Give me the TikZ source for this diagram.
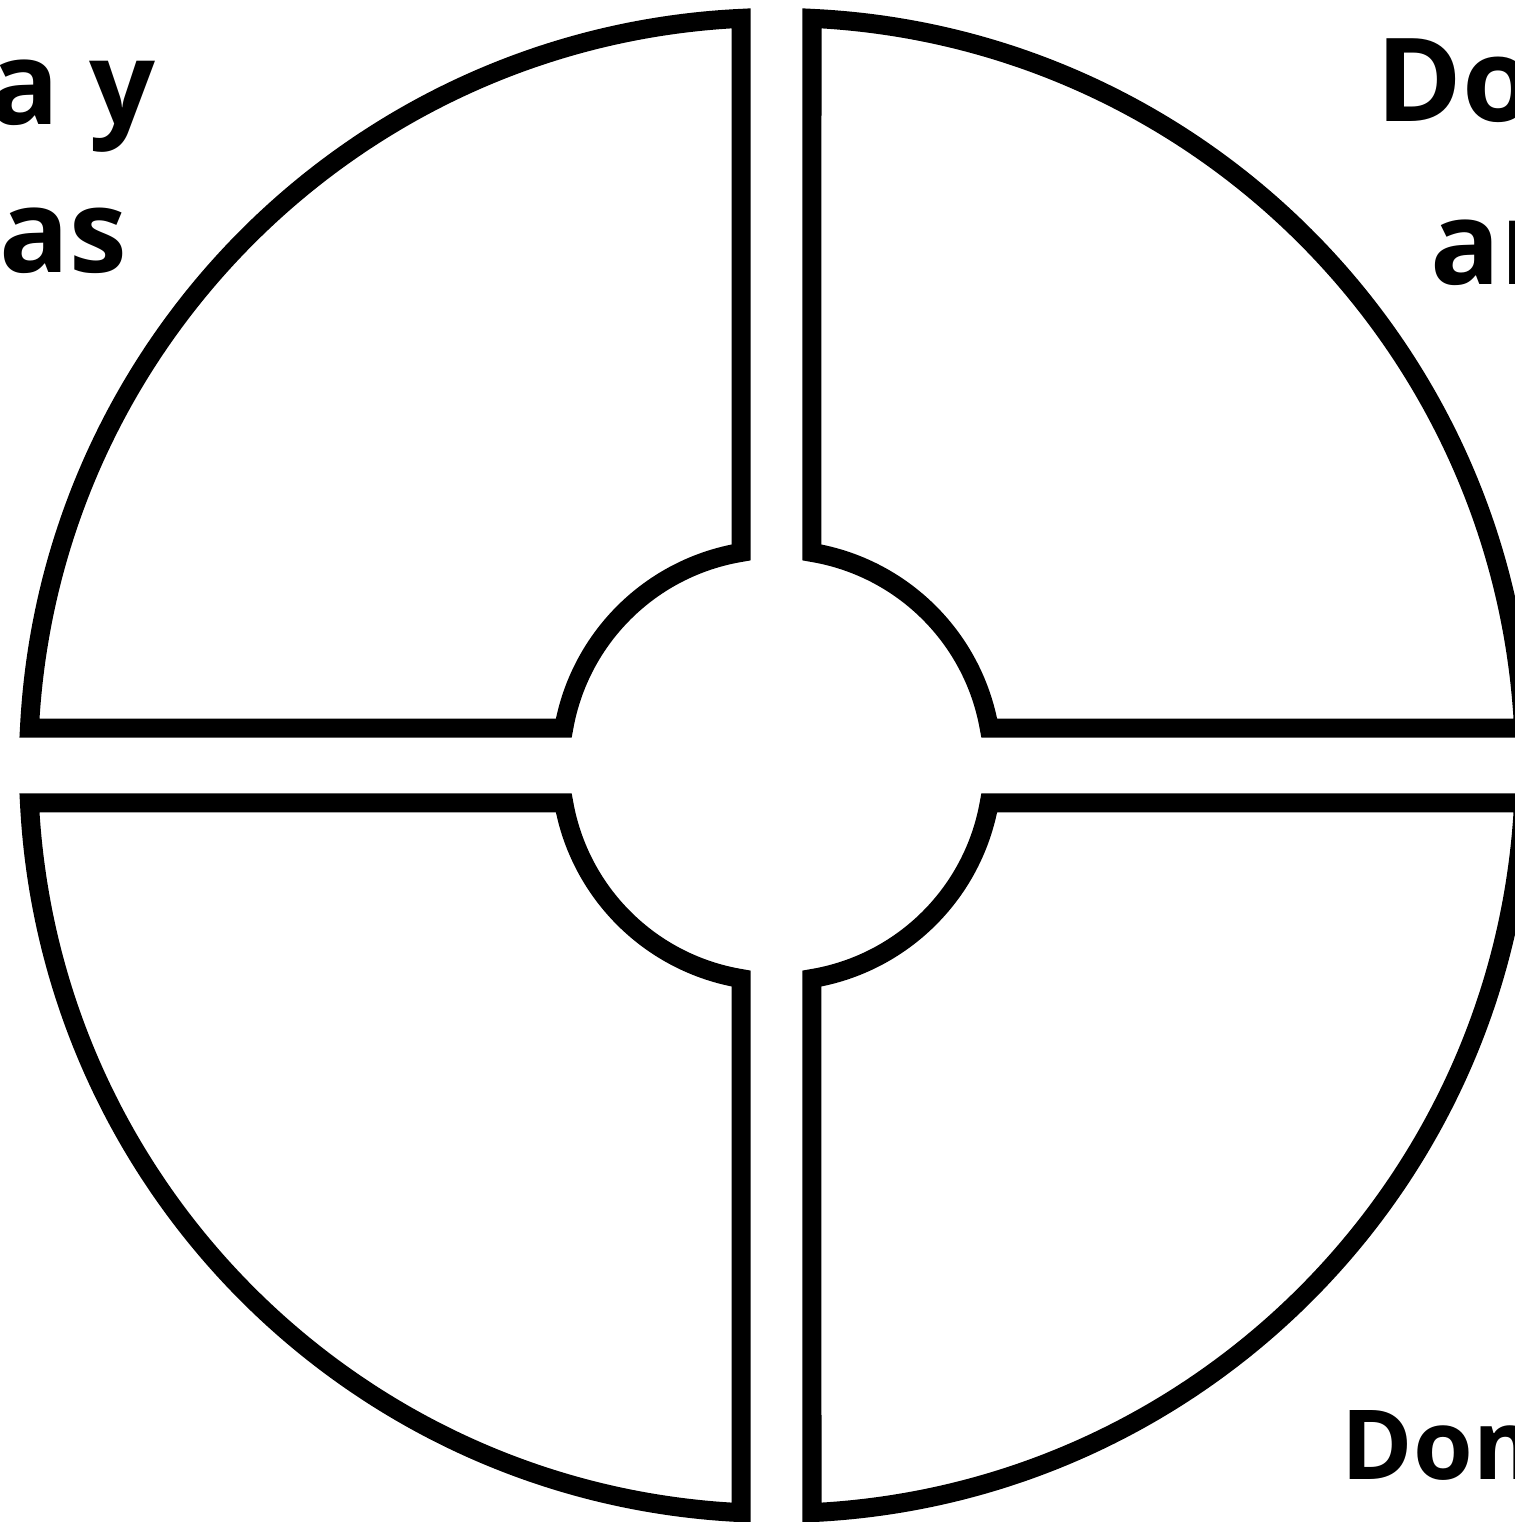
\documentclass[tikz,border=0pt]{standalone}
\usepackage{fontspec}
\setmainfont{Open Sans}
\usetikzlibrary{calc}
\begin{document}
\begin{tikzpicture}[
  quad/.style={draw=black,line width=0.19cm,line join=miter},
  label/.style={font=\fontsize{33}{40}\selectfont\bfseries,inner sep=0pt},
  labelsm/.style={label,font=\fontsize{27.5}{33}\selectfont\bfseries},
]
\useasboundingbox (0,0) rectangle (15.14,15.22);
\coordinate (c) at (7.765,7.565);
% half gaps 0.355 (x) and 0.375 (y), radii 7.48 and 2.16
\pgfmathsetmacro\ao{asin(0.355/7.48)}
\pgfmathsetmacro\bo{asin(0.375/7.48)}
\pgfmathsetmacro\ai{asin(0.355/2.16)}
\pgfmathsetmacro\bi{asin(0.375/2.16)}
% four quarter rings
\draw[quad] ($(c)+(90+\ao:7.48)$) arc[start angle=90+\ao,end angle=180-\bo,radius=7.48]
  -- ($(c)+(180-\bi:2.16)$) arc[start angle=180-\bi,end angle=90+\ai,radius=2.16] -- cycle;
\draw[quad] ($(c)+(90-\ao:7.48)$) arc[start angle=90-\ao,end angle=\bo,radius=7.48]
  -- ($(c)+(\bi:2.16)$) arc[start angle=\bi,end angle=90-\ai,radius=2.16] -- cycle;
\draw[quad] ($(c)+(270-\ao:7.48)$) arc[start angle=270-\ao,end angle=180+\bo,radius=7.48]
  -- ($(c)+(180+\bi:2.16)$) arc[start angle=180+\bi,end angle=270-\ai,radius=2.16] -- cycle;
\draw[quad] ($(c)+(270+\ao:7.48)$) arc[start angle=270+\ao,end angle=360-\bo,radius=7.48]
  -- ($(c)+(360-\bi:2.16)$) arc[start angle=360-\bi,end angle=270+\ai,radius=2.16] -- cycle;
% labels
\node[label,anchor=base east] (tlone) at (1.56,13.97) {ía y};
\node[label,anchor=base east] (tltwo) at (1.28,12.49) {as};
\node[label,anchor=base west] (trone) at (13.76,14.00) {Do};
\node[label,anchor=base west] (trtwo) at (14.30,12.37) {ar};
\node[labelsm,anchor=base west] (brone) at (13.41,0.42) {Dom};
\end{tikzpicture}
\end{document}
